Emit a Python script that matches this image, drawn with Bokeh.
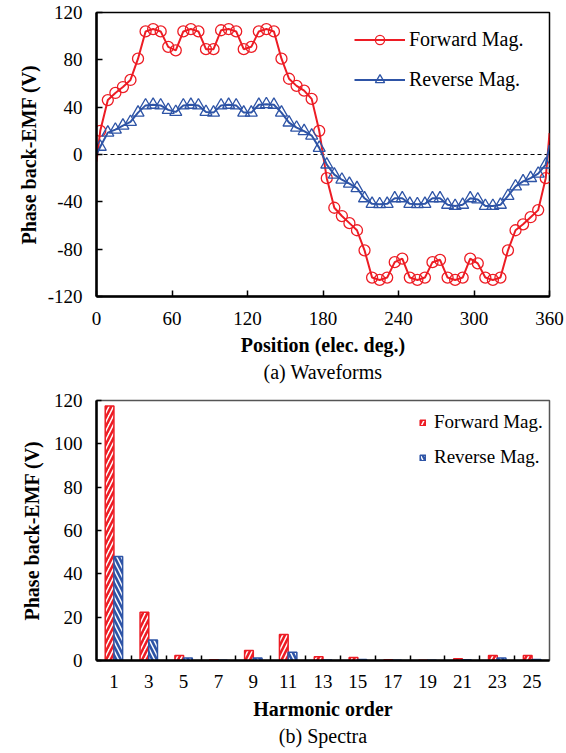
from bokeh.plotting import figure
from bokeh.models import Range1d, FixedTicker, Span, Legend, LegendItem, Title, ColumnDataSource
from bokeh.layouts import column
from bokeh.embed import file_html
from bokeh.resources import INLINE

FONT = "Liberation Serif"
RED = "#ED1C24"
BLUE = "#2E54A6"

# ---------------- data: (a) waveforms ----------------
positions = list(range(3, 360, 6))  # sample positions (elec. deg.)
forward = [20, 46, 52, 57, 63, 81, 104, 106, 104, 91, 88, 104, 106, 104, 89,
           89, 105, 106, 104, 89, 91, 104, 106, 104, 81, 64, 58, 54, 47, 20,
           -20, -45, -52, -58, -64, -81, -104, -106, -104, -91, -88, -104, -106, -104, -91,
           -89, -104, -106, -104, -88, -92, -104, -106, -104, -81, -64, -59, -53, -47, -20]
reverse = [6.5, 18.5, 21, 24.4, 27.5, 35.4, 41.5, 42, 41.5, 37.7, 36, 41.5, 42, 41.5, 36,
           35.4, 41.5, 42, 41.5, 35.4, 35.4, 42, 42.5, 42, 35.4, 27, 22.7, 19.8, 16, 5.6,
           -8.5, -17, -21.3, -24.7, -28.4, -37, -41.7, -42, -41.7, -37, -37, -41.7, -42, -41.7, -37,
           -37, -42.5, -43.5, -42.5, -37, -38, -43.5, -43.5, -42.5, -35, -27, -22.7, -19.9, -16.2, -8.5]
# line end points at the axis limits (no markers)
end_positions = [0, 360]
forward_ends = [-6, 18]
reverse_ends = [0, 8]
x_ticks_a = [0, 60, 120, 180, 240, 300, 360]
y_ticks_a = [-120, -80, -40, 0, 40, 80, 120]

# ---------------- data: (b) spectra ----------------
orders = [1, 3, 5, 7, 9, 11, 13, 15, 17, 19, 21, 23, 25]
spec_forward = [117.5, 22.3, 2.3, 0.3, 4.6, 12.0, 1.7, 1.4, 0.3, 0.1, 0.8, 2.3, 2.3]
spec_reverse = [48.0, 9.5, 1.1, 0.1, 1.1, 3.8, 0.2, 0.5, 0.1, 0.1, 0.3, 1.1, 0.5]
y_ticks_b = [0, 20, 40, 60, 80, 100, 120]


def style_axes(p, tick_len):
    for ax in (p.xaxis[0], p.yaxis[0]):
        ax.axis_line_color = "black"
        ax.axis_line_width = 2.5
        ax.major_tick_line_color = "black"
        ax.major_tick_line_width = 1.5
        ax.major_tick_in = tick_len
        ax.major_tick_out = 0
        ax.minor_tick_line_color = None
        ax.major_label_text_font = FONT
        ax.major_label_text_font_size = "19px"
        ax.major_label_text_color = "black"
        ax.axis_label_text_font = FONT
        ax.axis_label_text_font_size = "20px"
        ax.axis_label_text_font_style = "bold"
        ax.axis_label_text_color = "black"
    p.xgrid.visible = False
    p.ygrid.visible = False


# ======================= figure (a) =======================
p1 = figure(width=566, height=388,
            x_range=Range1d(0, 360), y_range=Range1d(-120, 120),
            output_backend="svg", toolbar_location=None,
            min_border_left=76, min_border_right=17, min_border_top=12,
            min_border_bottom=92)
p1.outline_line_color = "black"
p1.outline_line_width = 1.5
p1.background_fill_color = "white"
p1.border_fill_color = "white"

p1.add_layout(Span(location=0, dimension="width", line_color="black",
                   line_width=1, line_dash="4 3", level="underlay"))

line_x = [end_positions[0]] + positions + [end_positions[1]]
fwd_line = [forward_ends[0]] + forward + [forward_ends[1]]
rev_line = [reverse_ends[0]] + reverse + [reverse_ends[1]]

r_fl = p1.line(line_x, fwd_line, line_color=RED, line_width=2)
r_fm = p1.scatter(positions, forward, marker="circle", size=11, fill_color=None,
                  line_color=RED, line_width=1.3)
r_rl = p1.line(line_x, rev_line, line_color=BLUE, line_width=2)
r_rm = p1.scatter(positions, reverse, marker="triangle", size=12, fill_color=None,
                  line_color=BLUE, line_width=1.3)

style_axes(p1, 6)
p1.xaxis[0].ticker = FixedTicker(ticks=x_ticks_a)
p1.yaxis[0].ticker = FixedTicker(ticks=y_ticks_a)
p1.yaxis[0].major_label_overrides = {t: str(t) for t in y_ticks_a}
p1.xaxis[0].axis_label = "Position (elec. deg.)"
p1.yaxis[0].axis_label = "Phase back-EMF (V)"
p1.xaxis[0].major_label_standoff = 15
p1.xaxis[0].axis_label_standoff = 6
p1.yaxis[0].major_label_standoff = 14
p1.yaxis[0].axis_label_standoff = 5

leg1 = Legend(items=[LegendItem(label="Forward Mag.", renderers=[r_fl, r_fm]),
                     LegendItem(label="Reverse Mag.", renderers=[r_rl, r_rm])],
              location=(258, 205), border_line_color=None, background_fill_alpha=0,
              label_text_font=FONT, label_text_font_size="20px", label_text_color="black",
              glyph_width=51, glyph_height=23, label_height=23, label_standoff=4,
              spacing=17, padding=0, margin=0)
p1.add_layout(leg1)

cap1 = Title(text="(a) Waveforms", align="center", offset=-34,
             text_font=FONT, text_font_size="20px", text_font_style="normal",
             text_color="black", standoff=0)
p1.add_layout(cap1, "below")

# ======================= figure (b) =======================
p2 = figure(width=566, height=365,
            x_range=Range1d(0, 26), y_range=Range1d(0, 120),
            output_backend="svg", toolbar_location=None,
            min_border_left=96, min_border_right=10, min_border_top=12,
            min_border_bottom=93)
p2.outline_line_color = "#555555"
p2.outline_line_width = 1.5
p2.background_fill_color = "white"
p2.border_fill_color = "white"

src = ColumnDataSource(dict(
    xf=[o - 0.25 for o in orders], xr=[o + 0.25 for o in orders],
    f=spec_forward, r=spec_reverse))
b_f = p2.vbar(x="xf", width=0.5, top="f", bottom=0, source=src, fill_color="white",
              line_color=RED, line_width=1.5, hatch_pattern="/", hatch_color=RED,
              hatch_scale=9, hatch_weight=2.6)
b_r = p2.vbar(x="xr", width=0.5, top="r", bottom=0, source=src, fill_color="white",
              line_color=BLUE, line_width=1.5, hatch_pattern="\\", hatch_color=BLUE,
              hatch_scale=9, hatch_weight=2.6)

style_axes(p2, 5)
p2.xaxis[0].ticker = FixedTicker(ticks=orders, minor_ticks=[o + 1 for o in orders[:-1]])
p2.xaxis[0].major_tick_in = 0
p2.xaxis[0].minor_tick_line_color = "black"
p2.xaxis[0].minor_tick_line_width = 1.5
p2.xaxis[0].minor_tick_in = 5
p2.xaxis[0].minor_tick_out = 0
p2.yaxis[0].ticker = FixedTicker(ticks=y_ticks_b)
p2.xaxis[0].axis_label = "Harmonic order"
p2.yaxis[0].axis_label = "Phase back-EMF (V)"
p2.xaxis[0].major_label_standoff = 14
p2.xaxis[0].axis_label_standoff = 7
p2.yaxis[0].major_label_standoff = 14
p2.yaxis[0].axis_label_standoff = 8

leg2 = Legend(items=[LegendItem(label="Forward Mag.", renderers=[b_f]),
                     LegendItem(label="Reverse Mag.", renderers=[b_r])],
              location=(323, 192), border_line_color=None, background_fill_alpha=0,
              label_text_font=FONT, label_text_font_size="19px", label_text_color="black",
              glyph_width=7, glyph_height=7, label_height=22, label_standoff=8,
              spacing=13, padding=0, margin=0)
p2.add_layout(leg2)

cap2 = Title(text="(b) Spectra", align="center", offset=-43,
             text_font=FONT, text_font_size="20px", text_font_style="normal",
             text_color="black", standoff=0)
p2.add_layout(cap2, "below")

layout = column(p1, p2, spacing=0)
open("out.html", "w").write(file_html(layout, INLINE))
